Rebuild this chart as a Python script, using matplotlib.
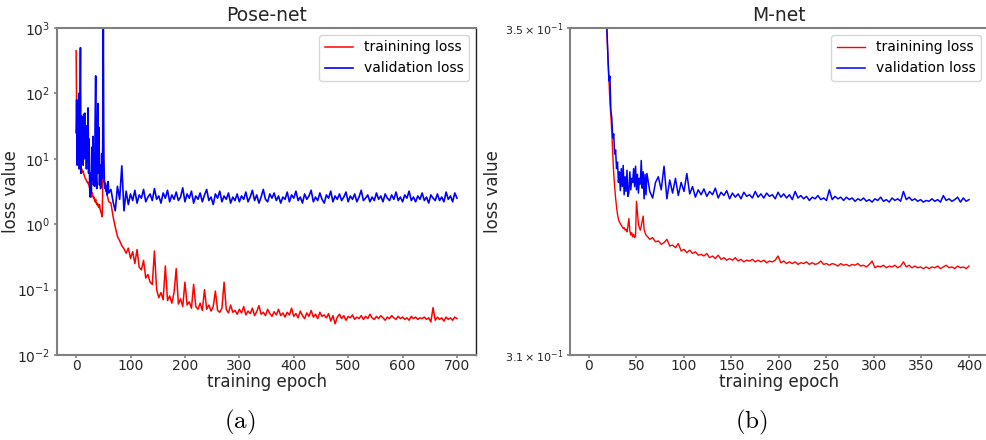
import numpy as np
import matplotlib
matplotlib.use("Agg")
import matplotlib.pyplot as plt

# ---------------- Pose-net data ----------------
pose_epochs_early = list(range(0, 61))
pose_train_early = [
    450, 60, 25, 14, 11, 9.5, 8.8, 8.0, 9.0, 7.2,
    7.0, 6.8, 6.2, 6.5, 5.8, 5.6, 5.2, 5.0, 4.9, 4.6,
    4.5, 4.3, 4.4, 4.0, 3.9, 3.5, 3.2, 2.8, 2.6, 2.9,
    3.0, 2.7, 2.5, 2.6, 2.3, 2.2, 2.4, 2.1, 2.0, 2.1,
    1.9, 2.0, 1.8, 2.0, 1.7, 1.6, 1.5, 1.4, 1.3, 4.0,
    20, 6.0, 4.5, 4.0, 3.6, 3.3, 3.0, 2.8, 2.6, 2.4,
    2.2,
]
pose_val_early = [
    25, 80, 8, 30, 12, 100, 7, 40, 500, 6,
    45, 15, 40, 8, 48, 10, 50, 12, 30, 7,
    32, 9, 60, 6, 20, 3.5, 2.6, 6, 3, 15,
    5, 22, 4, 10, 3.8, 40, 185, 5, 3.5, 25,
    70, 6, 30, 4, 8, 3.5, 4.5, 12, 5, 20,
    1200, 10, 4.5, 3.5, 4.2, 3.2, 3.8, 2.8, 3.5, 4.5,
    3.0,
]
pose_epochs_late = list(range(64, 701, 4))
pose_train_late = [
    2.1, 1.3, 0.9, 0.65, 0.56, 0.47, 0.42, 0.36, 0.43, 0.30,
    0.38, 0.25, 0.41, 0.22, 0.20, 0.28, 0.15, 0.17, 0.13, 0.12,
    0.39, 0.10, 0.075, 0.09, 0.07, 0.23, 0.068, 0.08, 0.062, 0.09,
    0.21, 0.06, 0.072, 0.055, 0.13, 0.058, 0.065, 0.052, 0.12, 0.055,
    0.05, 0.062, 0.048, 0.10, 0.05, 0.058, 0.047, 0.055, 0.095, 0.048,
    0.045, 0.052, 0.13, 0.05, 0.044, 0.058, 0.045, 0.048, 0.042, 0.05,
    0.044, 0.055, 0.041, 0.047, 0.043, 0.052, 0.04, 0.046, 0.057, 0.042,
    0.045, 0.04, 0.05, 0.043, 0.039, 0.046, 0.041, 0.05, 0.04, 0.044,
    0.038, 0.045, 0.041, 0.052, 0.039, 0.043, 0.037, 0.047, 0.04, 0.036,
    0.044, 0.039, 0.048, 0.038, 0.042, 0.036, 0.045, 0.039, 0.041, 0.037,
    0.043, 0.033, 0.04, 0.03, 0.038, 0.042, 0.036, 0.04, 0.034, 0.039,
    0.037, 0.041, 0.035, 0.038, 0.036, 0.04, 0.035, 0.039, 0.036, 0.042,
    0.037, 0.035, 0.039, 0.036, 0.04, 0.037, 0.034, 0.038, 0.036, 0.04,
    0.037, 0.035, 0.039, 0.036, 0.038, 0.035, 0.037, 0.034, 0.039, 0.036,
    0.038, 0.035, 0.037, 0.036, 0.038, 0.035, 0.037, 0.032, 0.053, 0.034,
    0.038, 0.035, 0.037, 0.033, 0.038, 0.035, 0.037, 0.034, 0.038, 0.036,
]
pose_val_late = [
    3.4, 2.2, 1.6, 3.8, 2.4, 7.8, 1.6, 3.2, 2.0, 2.9,
    2.3, 3.3, 2.1, 2.8, 2.5, 3.4, 2.2, 2.6, 2.9, 2.3,
    3.5, 2.4, 2.7, 2.1, 3.0, 2.5, 3.3, 2.2, 2.8, 2.4,
    3.1, 2.3, 2.6, 3.6, 2.2, 2.9, 2.5, 3.2, 2.1, 2.7,
    2.4, 3.0, 2.2, 2.8, 3.4, 2.3, 2.6, 2.0, 2.9, 2.5,
    3.2, 2.2, 2.7, 2.4, 3.0, 2.1, 2.6, 2.3, 2.9, 2.2,
    2.7, 2.4, 3.1, 2.2, 2.6, 3.3, 2.3, 2.8, 2.1, 2.6,
    3.4, 2.4, 2.2, 2.9, 2.5, 3.0, 2.3, 2.7, 2.1, 2.6,
    2.4, 3.1, 2.2, 2.8, 2.5, 3.2, 2.3, 2.6, 2.1, 2.9,
    2.4, 2.7, 3.3, 2.2, 2.6, 2.3, 3.0, 2.4, 2.1, 2.8,
    2.5, 3.2, 2.2, 2.7, 2.4, 2.9, 2.3, 2.6, 3.1, 2.2,
    2.7, 2.4, 2.9, 2.2, 2.6, 3.3, 2.3, 2.5, 2.8, 2.2,
    2.6, 2.3, 3.0, 2.4, 2.7, 2.2, 2.9, 2.5, 2.3, 2.8,
    2.4, 3.1, 2.3, 2.6, 2.2, 2.8, 2.5, 3.2, 2.3, 2.6,
    2.2, 2.7, 2.4, 3.0, 2.3, 2.6, 2.1, 2.8, 2.5, 2.3,
    2.9, 2.3, 2.6, 2.2, 3.1, 2.4, 2.7, 2.2, 3.0, 2.5,
]

# ---------------- M-net data ----------------
m_epochs_early = list(range(1, 61))
m_train_early = [
    0.95, 0.75, 0.62, 0.55, 0.50, 0.47, 0.445, 0.425, 0.41, 0.398,
    0.388, 0.38, 0.373, 0.367, 0.362, 0.358, 0.3545, 0.3515, 0.3488, 0.3462,
    0.3432, 0.3405, 0.3388, 0.3368, 0.3340, 0.3316, 0.3300, 0.3286, 0.3275, 0.3266,
    0.3260, 0.3257, 0.3255, 0.3253, 0.3251, 0.3249, 0.3250, 0.3247, 0.3248, 0.3245,
    0.3252, 0.3261, 0.3246, 0.3241, 0.3244, 0.3239, 0.3242, 0.3238, 0.3240, 0.3282,
    0.3268, 0.3255, 0.3250, 0.3247, 0.3252, 0.3258, 0.3264, 0.3248, 0.3244, 0.3241,
]
m_val_early = [
    1.0, 0.8, 0.66, 0.58, 0.52, 0.48, 0.455, 0.435, 0.418, 0.405,
    0.394, 0.385, 0.377, 0.37, 0.365, 0.36, 0.356, 0.3525, 0.3495, 0.3460,
    0.3432, 0.3438, 0.3395, 0.3385, 0.3360, 0.3365, 0.3340, 0.3345, 0.3322, 0.3330,
    0.3305, 0.3318, 0.3295, 0.3322, 0.3300, 0.3326, 0.3290, 0.3312, 0.3294, 0.3320,
    0.3288, 0.3293, 0.3318, 0.3296, 0.3310, 0.3305, 0.3322, 0.3300, 0.3325, 0.3296,
    0.3315, 0.3292, 0.3310, 0.3303, 0.3332, 0.3298, 0.3318, 0.3285, 0.3315, 0.3290,
]
m_epochs_late = list(range(61, 401, 3))
m_train_late = [
    0.3240, 0.3236, 0.3238, 0.3233, 0.3234, 0.3230, 0.3232, 0.3236, 0.3228, 0.3229,
    0.3226, 0.3231, 0.3222, 0.3224, 0.3220, 0.3223, 0.3219, 0.3221, 0.3217, 0.3218,
    0.3216, 0.3219, 0.3214, 0.3216, 0.3213, 0.3217, 0.3212, 0.3214, 0.3211, 0.3213,
    0.3211, 0.3214, 0.3210, 0.3212, 0.3209, 0.3211, 0.3210, 0.3212, 0.3209, 0.3211,
    0.3209, 0.3211, 0.3208, 0.3210, 0.3209, 0.3211, 0.3216, 0.3208, 0.3210, 0.3207,
    0.3209, 0.3207, 0.3209, 0.3206, 0.3208, 0.3207, 0.3209, 0.3206, 0.3208, 0.3206,
    0.3207, 0.3210, 0.3206, 0.3207, 0.3205, 0.3207, 0.3206, 0.3204, 0.3207, 0.3205,
    0.3206, 0.3204, 0.3206, 0.3205, 0.3207, 0.3204, 0.3205, 0.3203, 0.3206, 0.3210,
    0.3202, 0.3204, 0.3203, 0.3205, 0.3202, 0.3204, 0.3203, 0.3205, 0.3202, 0.3204,
    0.3209, 0.3203, 0.3205, 0.3202, 0.3204, 0.3202, 0.3203, 0.3201, 0.3203, 0.3201,
    0.3203, 0.3202, 0.3204, 0.3201, 0.3203, 0.3205, 0.3202, 0.3203, 0.3201, 0.3204,
    0.3202, 0.3203, 0.3201, 0.3204,
]
m_val_late = [
    0.3316, 0.3294, 0.3286, 0.3305, 0.3312, 0.3296, 0.3325, 0.3285, 0.3308, 0.3292,
    0.3310, 0.3289, 0.3305, 0.3294, 0.3316, 0.3291, 0.3300, 0.3287, 0.3296, 0.3290,
    0.3297, 0.3288, 0.3294, 0.3290, 0.3298, 0.3286, 0.3293, 0.3289, 0.3295, 0.3285,
    0.3292, 0.3287, 0.3291, 0.3285, 0.3293, 0.3288, 0.3290, 0.3286, 0.3294, 0.3287,
    0.3291, 0.3286, 0.3292, 0.3288, 0.3290, 0.3285, 0.3293, 0.3287, 0.3291, 0.3286,
    0.3290, 0.3284, 0.3294, 0.3286, 0.3289, 0.3285, 0.3288, 0.3283, 0.3287, 0.3285,
    0.3289, 0.3284, 0.3286, 0.3283, 0.3296, 0.3284, 0.3288, 0.3285, 0.3287, 0.3283,
    0.3287, 0.3284, 0.3286, 0.3282, 0.3285, 0.3283, 0.3286, 0.3282, 0.3284, 0.3281,
    0.3285, 0.3283, 0.3287, 0.3282, 0.3284, 0.3281, 0.3286, 0.3283, 0.3285, 0.3282,
    0.3294, 0.3284, 0.3287, 0.3283, 0.3285, 0.3282, 0.3284, 0.3281, 0.3283, 0.3282,
    0.3285, 0.3282, 0.3284, 0.3281, 0.3289, 0.3283, 0.3285, 0.3282, 0.3284, 0.3287,
    0.3281, 0.3286, 0.3282, 0.3284,
]

titles = ["Pose-net", "M-net"]
captions = ["(a)", "(b)"]
legend_labels = ["trainining loss", "validation loss"]
pose_yticks = [1e-2, 1e-1, 1e0, 1e1, 1e2, 1e3]
pose_xticks = [0, 100, 200, 300, 400, 500, 600, 700]
m_yticks = [0.31, 0.35]
m_yticklabels = [r"$3.1\times10^{-1}$", r"$3.5\times10^{-1}$"]
m_xticks = [0, 50, 100, 150, 200, 250, 300, 350, 400]

GREY = "#808080"
TXT = "#262626"


def style_axes(ax):
    for s in ["left", "bottom", "top"]:
        ax.spines[s].set_color(GREY)
        ax.spines[s].set_linewidth(1.5)
    ax.spines["right"].set_color("#222222")
    ax.spines["right"].set_linewidth(1.0)
    ax.tick_params(axis="both", which="major", color=GREY, width=1.2, length=2.5,
                   labelsize=10, labelcolor=TXT)
    ax.tick_params(axis="x", pad=0.6)
    ax.tick_params(axis="y", pad=2.5)
    ax.tick_params(axis="both", which="minor", length=0)
    ax.yaxis.set_minor_locator(matplotlib.ticker.NullLocator())


fig = plt.figure(figsize=(9.87, 4.40), dpi=100)
ax1 = fig.add_axes([0.0578, 0.1932, 0.4245, 0.7432])
ax2 = fig.add_axes([0.5775, 0.1932, 0.4235, 0.7432])

# Pose-net
px = pose_epochs_early + pose_epochs_late
ax1.plot(px, pose_train_early + pose_train_late, color="red", lw=1.1, label=legend_labels[0])
ax1.plot(px, pose_val_early + pose_val_late, color="blue", lw=1.2, label=legend_labels[1])
ax1.set_yscale("log")
ax1.set_ylim(1e-2, 1e3)
ax1.set_xlim(-35, 735)
ax1.set_yticks(pose_yticks)
ax1.set_xticks(pose_xticks)
style_axes(ax1)
ax1.set_title(titles[0], fontsize=13.5, color=TXT, pad=5)
ax1.set_xlabel("training epoch", fontsize=12, color=TXT, labelpad=0)
ax1.set_ylabel("loss value", fontsize=12, color=TXT)
ax1.yaxis.set_label_coords(-0.088, 0.5)
ax1.legend(loc="upper right", fontsize=10, frameon=True)

# M-net
mx = m_epochs_early + m_epochs_late
ax2.plot(mx, m_train_early + m_train_late, color="red", lw=1.0, label=legend_labels[0])
ax2.plot(mx, m_val_early + m_val_late, color="blue", lw=1.1, label=legend_labels[1])
ax2.set_yscale("log")
ax2.set_ylim(0.31, 0.35)
ax2.set_xlim(-20, 420)
ax2.set_yticks(m_yticks)
ax2.set_yticklabels(m_yticklabels)
ax2.set_xticks(m_xticks)
style_axes(ax2)
ax2.tick_params(axis="y", labelsize=8)
ax2.set_title(titles[1], fontsize=13.5, color=TXT, pad=5)
ax2.set_xlabel("training epoch", fontsize=12, color=TXT, labelpad=0)
ax2.set_ylabel("loss value", fontsize=12, color=TXT)
ax2.yaxis.set_label_coords(-0.163, 0.5)
ax2.legend(loc="upper right", fontsize=10, frameon=True)

# captions
for ax, cap in zip([ax1, ax2], captions):
    bb = ax.get_position()
    fig.text((bb.x0 + bb.x1) / 2 - 0.0275, 0.04, r"$\mathrm{" + cap + "}$",
             fontsize=18, ha="center", va="center", math_fontfamily="cm")

fig.savefig("out.png", dpi=100)
